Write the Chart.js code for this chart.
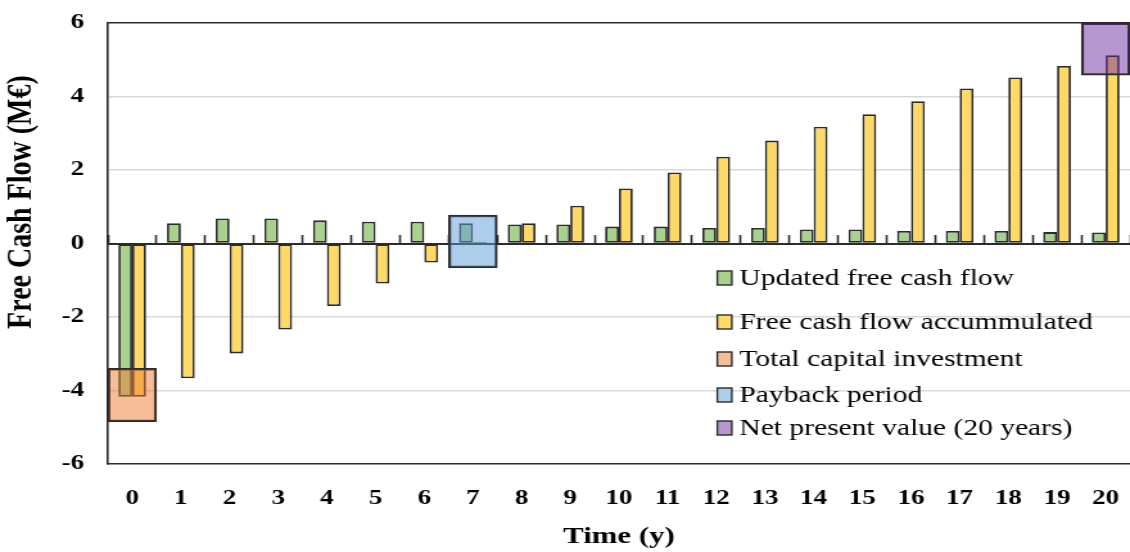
<!DOCTYPE html>
<html>
<head>
<meta charset="utf-8">
<script src="https://cdn.jsdelivr.net/npm/chart.js@4.4.1/dist/chart.umd.min.js"></script>
<style>
  html, body { margin: 0; padding: 0; background: #ffffff; }
  canvas { display: block; }
</style>
</head>
<body>
<canvas id="cashflow" width="880" height="552" style="width:1130px;height:552px"></canvas>
<script>
// Project years
const years = ['0','1','2','3','4','5','6','7','8','9','10','11','12','13','14','15','16','17','18','19','20'];

// Discounted yearly free cash flow (M€)
const updatedFreeCashFlow = [-4.17, 0.55, 0.68, 0.68, 0.63, 0.59, 0.59, 0.55, 0.52, 0.52, 0.46,
                             0.46, 0.42, 0.42, 0.38, 0.38, 0.34, 0.34, 0.34, 0.31, 0.30];

// Running total of the discounted free cash flow (M€)
const accumulatedFreeCashFlow = [-4.17, -3.67, -2.99, -2.34, -1.70, -1.09, -0.52, 0.04, 0.55, 1.03, 1.50,
                                 1.93, 2.36, 2.80, 3.18, 3.52, 3.87, 4.22, 4.52, 4.83, 5.12];

// Highlighted spans: [low, high] in M€ and the year they mark
const capitalInvestmentYear = '0';
const capitalInvestmentSpan = [-4.85, -3.40];
const paybackYear = '7';
const paybackSpan = [-0.66, 0.77];
const netPresentValueYear = '20';
const netPresentValueSpan = [4.58, 6.00];

// Value axis
const yMin = -6;
const yMax = 6;
const yStep = 2;

const seriesLabels = [
  'Updated free cash flow',
  'Free cash flow accummulated',
  'Total capital investment',
  'Payback period',
  'Net present value (20 years)'
];

const SERIF = "'Liberation Serif', 'Times New Roman', serif";
const EDGE = '#2b2b2b';

const spanAt = (year, span) => years.map(y => (y === year ? span : null));

const highlightStyle = {
  borderColor: EDGE,
  borderWidth: 1.7,
  borderSkipped: false,
  grouped: false,
  categoryPercentage: 1,
  barPercentage: 1,
  order: 0,
  xAxisID: 'x',
  yAxisID: 'y'
};

const seriesStyle = {
  borderColor: EDGE,
  borderWidth: 1.8,
  borderSkipped: false,
  categoryPercentage: 0.57,
  barPercentage: 1,
  order: 1,
  xAxisID: 'x',
  yAxisID: 'y'
};

// Keep tick labels from pushing the plot edges inward
const noEdgePadding = s => {
  s.paddingLeft = 0;
  s.paddingRight = 0;
  s.paddingTop = 0;
  s.paddingBottom = 0;
};

// Legend drawn inside the plot, lower right
const insideLegend = {
  id: 'insideLegend',
  afterDraw(chart) {
    const { ctx } = chart;
    const rows = [278, 322, 359, 395, 428];
    const boxX = 558.6, boxW = 11.3, boxH = 14, textX = 575.8;
    ctx.save();
    chart.data.datasets.forEach((ds, i) => {
      const cy = rows[i];
      ctx.fillStyle = '#ffffff';
      ctx.fillRect(boxX, cy - boxH / 2, boxW, boxH);
      ctx.fillStyle = ds.backgroundColor;
      ctx.fillRect(boxX, cy - boxH / 2, boxW, boxH);
      ctx.lineWidth = 1.4;
      ctx.strokeStyle = EDGE;
      ctx.strokeRect(boxX, cy - boxH / 2, boxW, boxH);
      ctx.fillStyle = '#000000';
      ctx.font = `23px ${SERIF}`;
      ctx.textAlign = 'left';
      ctx.textBaseline = 'alphabetic';
      ctx.fillText(ds.label, textX, cy + 7);
    });
    ctx.restore();
  }
};

// Vertical axis title
const valueAxisTitle = {
  id: 'valueAxisTitle',
  afterDraw(chart) {
    const { ctx } = chart;
    ctx.save();
    ctx.translate(17.1, 202);
    ctx.rotate(-Math.PI / 2);
    ctx.fillStyle = '#000000';
    ctx.font = `bold 28px ${SERIF}`;
    ctx.textAlign = 'center';
    ctx.textBaseline = 'middle';
    ctx.fillText('Free Cash Flow (M€)', 0, 0);
    ctx.restore();
  }
};

new Chart(document.getElementById('cashflow'), {
  type: 'bar',
  data: {
    labels: years,
    datasets: [
      Object.assign({ label: seriesLabels[0], data: updatedFreeCashFlow, backgroundColor: '#A9D18E' }, seriesStyle),
      Object.assign({ label: seriesLabels[1], data: accumulatedFreeCashFlow, backgroundColor: '#FFD966' }, seriesStyle),
      Object.assign({ label: seriesLabels[2], data: spanAt(capitalInvestmentYear, capitalInvestmentSpan), backgroundColor: 'rgba(237,125,49,0.5)' }, highlightStyle),
      Object.assign({ label: seriesLabels[3], data: spanAt(paybackYear, paybackSpan), backgroundColor: 'rgba(91,155,213,0.5)' }, highlightStyle),
      Object.assign({ label: seriesLabels[4], data: spanAt(netPresentValueYear, netPresentValueSpan), backgroundColor: 'rgba(112,48,160,0.5)' }, highlightStyle)
    ]
  },
  options: {
    responsive: false,
    animation: false,
    devicePixelRatio: 1,
    layout: { autoPadding: false, padding: { top: 23, right: 0, bottom: 0, left: 0 } },
    plugins: {
      legend: { display: false },
      tooltip: { enabled: false }
    },
    scales: {
      x: {
        type: 'category',
        axis: 'x',
        position: 'bottom',
        offset: true,
        grid: { display: false, drawTicks: false, offset: true },
        border: { display: true, color: EDGE, width: 1.6 },
        ticks: {
          color: '#000000',
          font: { family: SERIF, size: 21, weight: 'bold' },
          padding: 22,
          maxRotation: 0,
          autoSkip: false
        },
        title: {
          display: true,
          text: 'Time (y)',
          color: '#000000',
          font: { family: SERIF, size: 24, weight: 'bold' },
          padding: { top: 0, bottom: 1 }
        },
        afterFit: s => { s.height = 88; noEdgePadding(s); }
      },
      xTop: {
        type: 'category',
        axis: 'x',
        position: 'top',
        offset: true,
        grid: { display: false, drawTicks: false },
        ticks: { display: false },
        border: { display: true, color: EDGE, width: 1.6 },
        afterFit: s => { s.height = 0; noEdgePadding(s); }
      },
      xZero: {
        type: 'category',
        axis: 'x',
        position: { y: 0 },
        offset: true,
        grid: {
          display: true,
          offset: true,
          drawOnChartArea: false,
          drawTicks: true,
          tickLength: -10,
          tickWidth: 1.6,
          tickColor: EDGE
        },
        ticks: { display: false },
        border: { display: true, color: EDGE, width: 2 },
        afterFit: s => { noEdgePadding(s); }
      },
      y: {
        type: 'linear',
        position: 'left',
        min: yMin,
        max: yMax,
        ticks: {
          stepSize: yStep,
          color: '#000000',
          font: { family: SERIF, size: 21, weight: 'bold' },
          padding: 18.5
        },
        grid: {
          drawTicks: false,
          lineWidth: 1.5,
          color: c => (c.tick && (c.tick.value === 0 || Math.abs(c.tick.value) === yMax)) ? 'rgba(0,0,0,0)' : '#D9D9D9'
        },
        border: { display: true, color: EDGE, width: 1.6 },
        afterFit: s => { s.width = 84; noEdgePadding(s); }
      }
    }
  },
  plugins: [insideLegend, valueAxisTitle]
});
</script>
</body>
</html>
